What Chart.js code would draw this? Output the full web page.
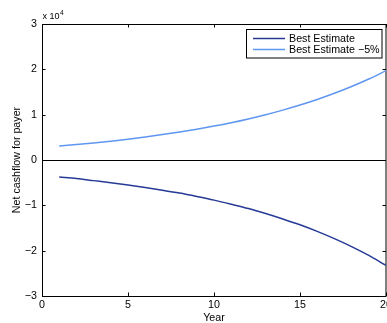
<!DOCTYPE html>
<html>
<head>
<meta charset="utf-8">
<script src="https://cdn.jsdelivr.net/npm/chart.js@4"></script>
<style>
html,body{margin:0;padding:0;background:#fff;}
canvas{display:block;}
</style>
</head>
<body>
<canvas id="c" width="387" height="323"></canvas>
<script>
const years = [1,2,3,4,5,6,7,8,9,10,11,12,13,14,15,16,17,18,19,20];
const bestEstimate = [-3750,-4100,-4550,-5000,-5500,-6050,-6650,-7300,-8050,-8850,-9750,-10700,-11800,-13000,-14300,-15750,-17350,-19100,-21050,-23250];
const bestEstimateMinus5 = [3100,3400,3750,4150,4600,5080,5600,6170,6800,7480,8230,9060,9980,11000,12120,13350,14710,16210,17860,19680];
const seriesLabels = ['Best Estimate', 'Best Estimate \u22125%'];
const xTicks = [0,5,10,15,20];
const yTicks = [-3,-2,-1,0,1,2,3];
const yScaleFactor = 10000;

const FONT = '"Liberation Sans", Arial, Helvetica, sans-serif';
const colDark = 'rgb(38,58,150)';
const colLight = 'rgb(95,150,240)';

const boxPlugin = {
  id: 'matlabBox',
  beforeDatasetsDraw(chart) {
    const {ctx, chartArea: a, scales} = chart;
    ctx.save();
    ctx.strokeStyle = '#000';
    ctx.lineWidth = 1;
    ctx.beginPath();
    xTicks.forEach(t => {
      const x = Math.round(scales.x.getPixelForValue(t)) + 0.5;
      ctx.moveTo(x, a.bottom); ctx.lineTo(x, a.bottom - 3.5);
      ctx.moveTo(x, a.top); ctx.lineTo(x, a.top + 3.5);
    });
    yTicks.forEach(t => {
      const y = Math.round(scales.y.getPixelForValue(t * yScaleFactor)) + 0.5;
      ctx.moveTo(a.left, y); ctx.lineTo(a.left + 3.5, y);
      ctx.moveTo(a.right, y); ctx.lineTo(a.right - 3.5, y);
    });
    ctx.stroke();
    ctx.strokeRect(Math.round(a.left) + 0.5, Math.round(a.top) + 0.5,
                   Math.round(a.right - a.left) - 0.5, Math.round(a.bottom - a.top));
    ctx.restore();
  },
  afterDraw(chart) {
    const {ctx, chartArea: a} = chart;
    ctx.save();
    ctx.fillStyle = '#000';
    ctx.textBaseline = 'alphabetic';
    ctx.textAlign = 'left';
    ctx.font = '9px ' + FONT;
    ctx.fillText('x 10', a.left + 0.5, 19);
    const w = ctx.measureText('x 10').width;
    ctx.font = '6.5px ' + FONT;
    ctx.fillText('4', a.left + 0.5 + w + 0.5, 15);
    const lx = 246.5, ly = 29.5, lw = 135.5, lh = 28.5;
    ctx.fillStyle = '#fff';
    ctx.fillRect(lx, ly, lw, lh);
    ctx.strokeStyle = '#000';
    ctx.lineWidth = 1;
    ctx.strokeRect(lx, ly, lw, lh);
    const ds = chart.data.datasets;
    const rows = [38.5, 49.5];
    ds.forEach((d, i) => {
      ctx.strokeStyle = d.borderColor;
      ctx.lineWidth = 1.5;
      ctx.beginPath();
      ctx.moveTo(253, rows[i]);
      ctx.lineTo(285, rows[i]);
      ctx.stroke();
      ctx.fillStyle = '#000';
      ctx.font = '10.7px ' + FONT;
      ctx.textBaseline = 'middle';
      ctx.fillText(d.label, 289, rows[i] + 0.5);
    });
    ctx.restore();
  }
};

new Chart(document.getElementById('c'), {
  type: 'line',
  data: {
    datasets: [
      {
        label: seriesLabels[0],
        data: years.map((x, i) => ({x: x, y: bestEstimate[i]})),
        borderColor: colDark, backgroundColor: colDark,
        borderWidth: 1.5, pointRadius: 0, cubicInterpolationMode: 'monotone', fill: false
      },
      {
        label: seriesLabels[1],
        data: years.map((x, i) => ({x: x, y: bestEstimateMinus5[i]})),
        borderColor: colLight, backgroundColor: colLight,
        borderWidth: 1.5, pointRadius: 0, cubicInterpolationMode: 'monotone', fill: false
      }
    ]
  },
  options: {
    responsive: false,
    animation: false,
    devicePixelRatio: 1,
    layout: {padding: {top: 24, right: 1, left: 0, bottom: 0}},
    plugins: {legend: {display: false}, tooltip: {enabled: false}},
    scales: {
      x: {
        type: 'linear', min: 0, max: 20,
        afterBuildTicks: s => { s.ticks = xTicks.map(v => ({value: v})); },
        afterFit: s => { s.height = 27; s.paddingLeft = 0; s.paddingRight = 0; },
        grid: {display: false, drawTicks: false},
        border: {display: false},
        ticks: {color: '#000', padding: 3, maxRotation: 0, autoSkip: false,
                font: {family: FONT, size: 10.7, lineHeight: 1.2}},
        title: {display: true, text: 'Year', color: '#000', padding: {top: 0, bottom: 0},
                font: {family: FONT, size: 10.7, lineHeight: 1}}
      },
      y: {
        type: 'linear', min: -3 * yScaleFactor, max: 3 * yScaleFactor,
        afterBuildTicks: s => { s.ticks = yTicks.map(v => ({value: v * yScaleFactor})); },
        afterFit: s => { s.width = 42; s.paddingTop = 0; s.paddingBottom = 0; },
        grid: {drawTicks: false, lineWidth: 1,
               color: c => (c.tick && c.tick.value === 0) ? '#000' : 'rgba(0,0,0,0)'},
        border: {display: false},
        ticks: {color: '#000', padding: 5, autoSkip: false,
                font: {family: FONT, size: 10.7},
                callback: v => { const n = Math.round(v / yScaleFactor); return n < 0 ? '\u2212' + Math.abs(n) : String(n); }},
        title: {display: true, text: 'Net cashflow for payer', color: '#000', padding: {top: 11, bottom: 0},
                font: {family: FONT, size: 10.7, lineHeight: 1.2}}
      }
    }
  },
  plugins: [boxPlugin]
});
</script>
</body>
</html>
